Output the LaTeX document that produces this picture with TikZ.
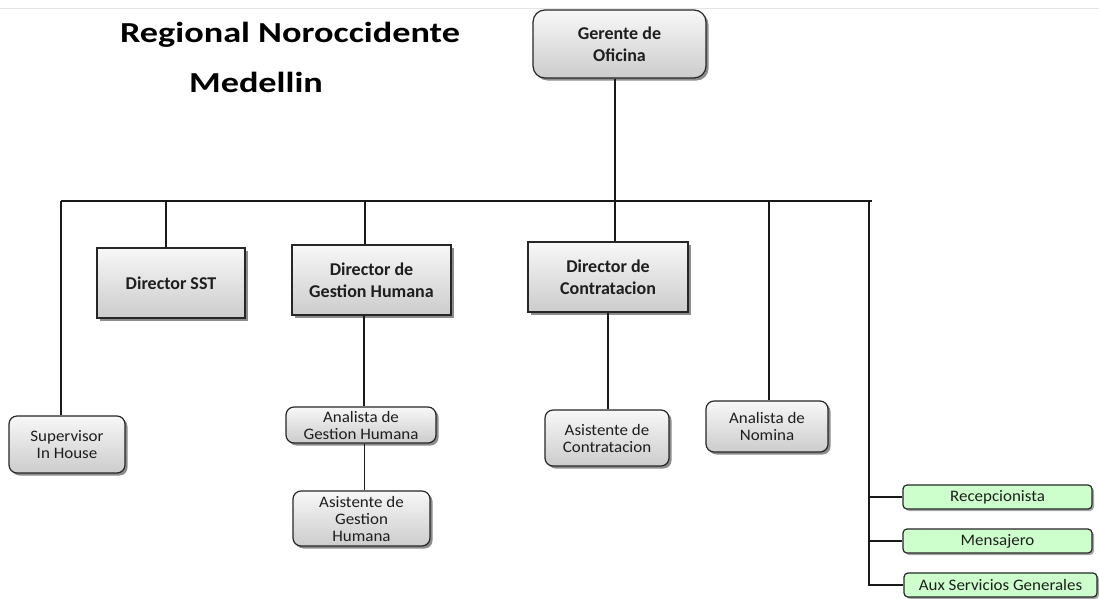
\documentclass[tikz,border=0pt]{standalone}
\usepackage{fontspec}
\setmainfont{Carlito}
\newfontfamily\smallf[FakeStretch=1.06]{Carlito}
\newfontfamily\titlef[FakeStretch=1.25]{Carlito}
\usetikzlibrary{shadows}
\definecolor{lgreen}{HTML}{CCFFCC}
\definecolor{txt}{HTML}{1E1E1E}
\begin{document}
\begin{tikzpicture}[x=1pt,y=-1pt,
  box/.style={draw=black!85, line width=1.2pt, top color=gray!6, bottom color=gray!40,
    drop shadow={shadow xshift=2.5pt, shadow yshift=-2.5pt, opacity=0.45, fill=black},
    align=center, inner sep=0pt, text=txt},
  dir/.style={box, font=\bfseries\fontsize{18}{22.5}\selectfont},
  sub/.style={box, rounded corners=8pt, font=\smallf\fontsize{16}{17}\selectfont},
  gbox/.style={draw=black!85, line width=1.2pt, fill=lgreen, rounded corners=4pt,
    drop shadow={shadow xshift=2pt, shadow yshift=-2pt, opacity=0.35, fill=black},
    align=center, inner sep=0pt, text=txt, minimum width=189pt, minimum height=24pt,
    font=\smallf\fontsize{16}{17}\selectfont},
  conn/.style={draw=black!90, line width=1.1pt},
  ttl/.style={font=\titlef\bfseries\fontsize{29}{34}\selectfont, text=black, inner sep=0pt}
]
\useasboundingbox (0,0) rectangle (1099,598);
\fill[white] (0,0) rectangle (1099,598);
\draw[gray!20, line width=1pt] (0,8) -- (1099,8);

% title
\node[ttl] (t1) at (290,35) {Regional Noroccidente};
\node[ttl] (t2) at (256,82) {Medellin};

% nodes
\node[dir, rounded corners=12pt, minimum width=173pt, minimum height=68pt] (ger) at (619.5,44) {Gerente de\\Oficina};
\node[dir, minimum width=148pt, minimum height=70pt] (dsst) at (171,283) {Director SST};
\node[dir, minimum width=159pt, minimum height=70pt] (dgh) at (371.5,280) {Director de\\Gestion Humana};
\node[dir, minimum width=160pt, minimum height=70pt] (dcon) at (608,277) {Director de\\Contratacion};

\node[sub, minimum width=116pt, minimum height=57pt] (sup) at (67,444.5) {Supervisor\\In House};
\node[sub, minimum width=150pt, minimum height=36pt] (agh) at (361,425) {Analista de\\Gestion Humana};
\node[sub, minimum width=137pt, minimum height=55pt] (asgh) at (361.5,518.5) {Asistente de\\Gestion\\Humana};
\node[sub, minimum width=124pt, minimum height=56pt] (ascon) at (607,438) {Asistente de\\Contratacion};
\node[sub, minimum width=122pt, minimum height=51pt] (anom) at (767,426.5) {Analista de\\Nomina};

\node[gbox] (rec) at (997.5,497) {Recepcionista};
\node[gbox] (men) at (997.5,541) {Mensajero};
\node[gbox, minimum width=193pt] (aux) at (1000.5,585) {Aux Servicios Generales};

% bus coordinates
\coordinate (busL) at (61,201);
\coordinate (busR) at (872,201);
\coordinate (rv) at (869,201);
\coordinate (nv) at (769,201);

% connectors
\draw[conn] (busL) -- (busR);
\draw[conn] ([xshift=-4.5pt]ger.south) -- ([xshift=-4.5pt]ger.south |- dcon.north);
\draw[conn] ([xshift=-5pt]dsst.north) -- ([xshift=-5pt]dsst.north |- busL);
\draw[conn] ([xshift=-6.5pt]dgh.north) -- ([xshift=-6.5pt]dgh.north |- busL);
\draw[conn] ([xshift=-7.5pt]dgh.south) -- ([xshift=-7.5pt]dgh.south |- agh.north);
\draw[conn] ([xshift=3.5pt]agh.south) -- ([xshift=3.5pt]agh.south |- asgh.north);
\draw[conn] (dcon.south) -- (dcon.south |- ascon.north);
\draw[conn] (busL) -- (busL |- sup.north);
\draw[conn] (nv) -- (nv |- anom.north);
\draw[conn] (rv) -- (rv |- aux.west) -- (aux.west);
\draw[conn] (rv |- rec.west) -- (rec.west);
\draw[conn] (rv |- men.west) -- (men.west);
\end{tikzpicture}
\end{document}
